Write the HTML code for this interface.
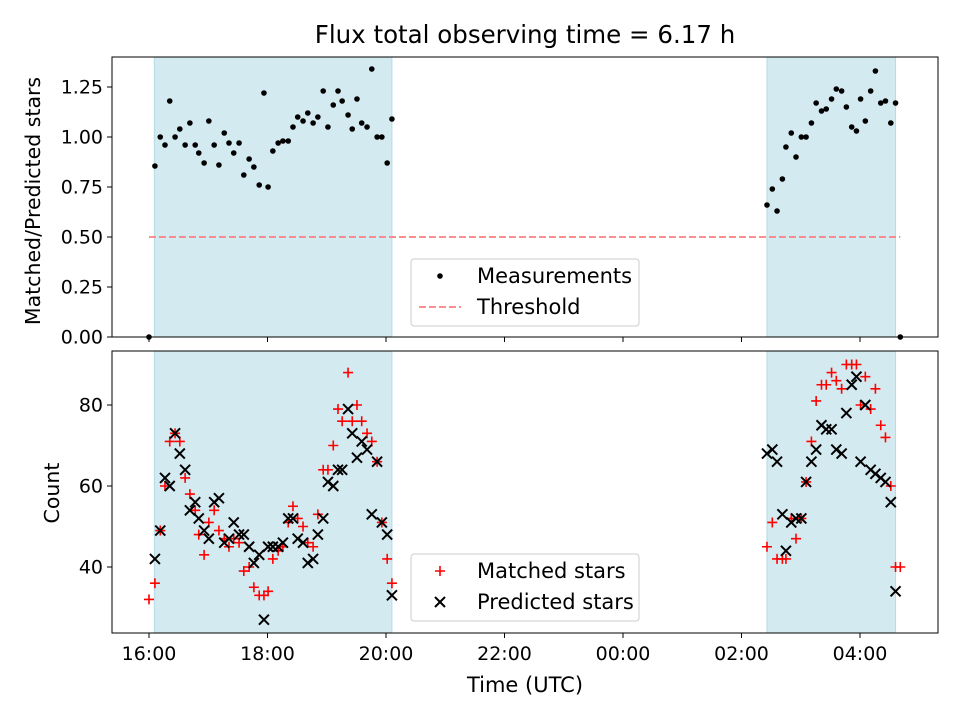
<!DOCTYPE html>
<html><head><meta charset="utf-8"><style>
html,body{margin:0;padding:0;background:#fff;}
svg{display:block;font-family:"DejaVu Sans","Liberation Sans",sans-serif;}
</style></head><body>
<svg id="chart" width="960" height="720" viewBox="0 0 960 720">
<rect x="0" y="0" width="960" height="720" fill="#fff"/>
<text x="525" y="43" font-size="24.5" text-anchor="middle" fill="#000">Flux total observing time = 6.17 h</text>
<g id="top"></g>
<g id="bot"></g>
<text x="525" y="692" font-size="21" text-anchor="middle">Time (UTC)</text>
<text transform="translate(40,201) rotate(-90)" font-size="20.5" text-anchor="middle">Matched/Predicted stars</text>
<text transform="translate(59,493) rotate(-90)" font-size="20.5" text-anchor="middle">Count</text>
</svg>
<script>
// hours since 16:00 UTC
const times = [0.00,0.10,0.19,0.27,0.35,0.44,0.52,0.61,0.69,0.78,0.84,0.93,1.01,1.10,1.18,1.27,1.35,1.43,1.52,1.60,1.69,1.77,1.86,1.94,2.01,2.09,2.18,2.26,2.35,2.43,2.51,2.60,2.68,2.77,2.85,2.94,3.02,3.11,3.19,3.26,3.36,3.43,3.51,3.59,3.68,3.76,3.85,3.93,4.02,4.10,
 10.43,10.52,10.60,10.69,10.75,10.84,10.92,11.01,11.09,11.18,11.26,11.35,11.43,11.52,11.60,11.69,11.77,11.86,11.94,12.01,12.09,12.18,12.26,12.35,12.43,12.52,12.60,12.68];
const ratio = [0,0.855,1.0,0.96,1.18,1.0,1.04,0.96,1.07,0.96,0.92,0.87,1.08,0.96,0.86,1.02,0.97,0.92,0.97,0.81,0.89,0.85,0.76,1.22,0.75,0.93,0.97,0.98,0.98,1.05,1.10,1.08,1.12,1.07,1.10,1.23,1.05,1.16,1.23,1.18,1.11,1.04,1.19,1.07,1.05,1.34,1.0,1.0,0.87,1.09,
 0.66,0.74,0.63,0.79,0.95,1.02,0.90,1.0,1.0,1.07,1.17,1.13,1.14,1.19,1.24,1.23,1.15,1.05,1.03,1.19,1.08,1.23,1.33,1.17,1.18,1.07,1.17,0];
const matched = [32,36,49,60,71,73,71,62,58,54,48,43,51,54,49,47,45,47,46,39,40,35,33,33,34,42,44,45,51,55,52,50,46,45,53,64,64,70,79,76,88,76,80,76,73,71,66,51,42,36,
 45,51,42,42,42,52,47,52,61,71,81,85,85,88,86,84,90,90,90,80,87,79,84,75,72,60,40,40];
const predicted = [null,42,49,62,60,73,68,64,54,56,52,49,47,56,57,46,47,51,48,48,45,41,43,27,45,45,45,46,52,52,47,46,41,42,48,52,61,60,64,64,79,73,67,71,69,53,66,51,48,33,
 68,69,66,53,44,51,52,52,61,66,69,75,74,74,69,68,78,85,87,66,80,64,63,62,61,56,34,null];
const xTickVals = [0,2,4,6,8,10,12];
const xTickLabels = ["16:00","18:00","20:00","22:00","00:00","02:00","04:00"];
const topTicks = [0,0.25,0.5,0.75,1.0,1.25];
const botTicks = [40,60,80];
const spans = [[0.09,4.10],[10.43,12.60]];
const threshold = 0.5;

const NS="http://www.w3.org/2000/svg";
const L=112,R=938,T1=57,B1=337,T2=351,B2=633;
const FS=19, LFS=21;
const xs=h=>149+h*59.25;
const yTop=v=>337-v*200;
const yBot=c=>567-(c-40)*4.05;
function mk(tag,attrs,parent){const e=document.createElementNS(NS,tag);for(const k in attrs)e.setAttribute(k,attrs[k]);parent.appendChild(e);return e;}

function panel(g,T,B,yfn,ticks,fmt,withLabels,prefix){
  spans.forEach((s,i)=>{
    const r=mk('rect',{x:xs(s[0]),y:T,width:xs(s[1])-xs(s[0]),height:B-T,fill:'#d4eaf1',stroke:'#b5dbe6','stroke-width':1},g);
    
    
  });
  ticks.forEach(v=>{
    const y=yfn(v);
    const tl=mk('line',{x1:L-5,x2:L,y1:y,y2:y,stroke:'#000','stroke-width':1},g);
    
    
    const t=mk('text',{x:L-9,y:y+6.5,'font-size':FS,'text-anchor':'end'},g);
    t.textContent=fmt(v);
    
    
  });
  xTickVals.forEach((h,i)=>{
    const x=xs(h);
    const tl=mk('line',{x1:x,x2:x,y1:B,y2:B+5,stroke:'#000','stroke-width':1},g);
    
    
    if(withLabels){
      const t=mk('text',{x:x,y:B+27,'font-size':FS,'text-anchor':'middle'},g);
      t.textContent=xTickLabels[i];
      
      
    }
  });
}
const gt=document.getElementById('top'), gb=document.getElementById('bot');
panel(gt,T1,B1,yTop,topTicks,v=>v.toFixed(2),false,'top');
panel(gb,T2,B2,yBot,botTicks,v=>String(v),true,'bottom');

const th=mk('line',{x1:xs(0),x2:xs(12.68),y1:yTop(threshold),y2:yTop(threshold),stroke:'#ff7f7f','stroke-width':1.8,'stroke-dasharray':'7,3'},gt);



times.forEach((h,i)=>{
  const c=mk('circle',{cx:xs(h),cy:yTop(ratio[i]),r:2.8,fill:'#000'},gt);
  
  
});
function plus(x,y){const g=mk('g',{},gb);mk('path',{d:`M${x-5},${y}H${x+5}M${x},${y-5}V${y+5}`,stroke:'#f00','stroke-width':1.6,fill:'none'},g);return g;}
function cross(x,y){const g=mk('g',{},gb);mk('path',{d:`M${x-5},${y-5}L${x+5},${y+5}M${x-5},${y+5}L${x+5},${y-5}`,stroke:'#000','stroke-width':2,fill:'none'},g);return g;}
times.forEach((h,i)=>{
  if(matched[i]!=null){const p=plus(xs(h),yBot(matched[i]));
    
    }
});
times.forEach((h,i)=>{
  if(predicted[i]!=null){const p=cross(xs(h),yBot(predicted[i]));
    
    }
});
[[T1,B1,'top-axes-frame'],[T2,B2,'bottom-axes-frame']].forEach(a=>{
  const r=mk('rect',{x:L,y:a[0],width:R-L,height:a[1]-a[0],fill:'none',stroke:'#000','stroke-width':1},document.getElementById('chart'));
  
  
});
function legend(y0,name,entries){
  const svg=document.getElementById('chart');
  const g=mk('g',{},svg);
  
  
  mk('rect',{x:411,y:y0,width:228,height:67,rx:3,fill:'#fff','fill-opacity':0.8,stroke:'#ccc','stroke-width':1},g);
  entries.forEach((e,i)=>{
    const yy=y0+17+i*31;
    e.draw(g,440,yy);
    const t=mk('text',{x:477,y:yy+7,'font-size':LFS},g);
    t.textContent=e.label;
    
    
  });
}
legend(259,'top-legend',[
  {label:'Measurements',draw:(g,x,y)=>mk('circle',{cx:x,cy:y,r:2.8,fill:'#000'},g)},
  {label:'Threshold',draw:(g,x,y)=>mk('line',{x1:x-21,x2:x+21,y1:y,y2:y,stroke:'#ff7f7f','stroke-width':1.8,'stroke-dasharray':'7,3'},g)}
]);
legend(554,'bottom-legend',[
  {label:'Matched stars',draw:(g,x,y)=>mk('path',{d:`M${x-5},${y}H${x+5}M${x},${y-5}V${y+5}`,stroke:'#f00','stroke-width':1.6},g)},
  {label:'Predicted stars',draw:(g,x,y)=>mk('path',{d:`M${x-5},${y-5}L${x+5},${y+5}M${x-5},${y+5}L${x+5},${y-5}`,stroke:'#000','stroke-width':2},g)}
]);
</script>
</body></html>
